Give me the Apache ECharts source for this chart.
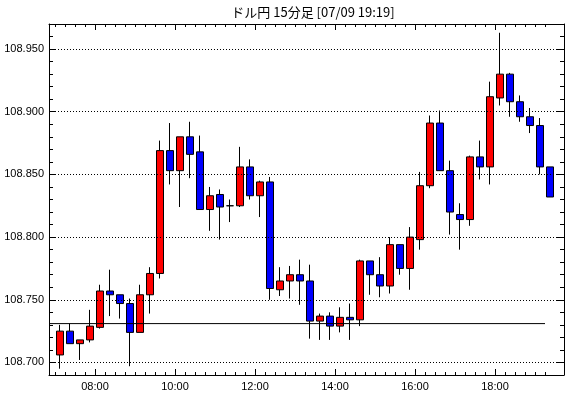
<!DOCTYPE html>
<html><head><meta charset="utf-8">
<script src="https://cdn.jsdelivr.net/npm/echarts@6/dist/echarts.min.js"></script>
<style>html,body{margin:0;padding:0;background:#fff}#c{width:570px;height:398px}</style>
</head><body><div id="c"></div>
<script>
const times = ["07:00","07:15","07:30","07:45","08:00","08:15","08:30","08:45","09:00","09:15",
"09:30","09:45","10:00","10:15","10:30","10:45","11:00","11:15","11:30","11:45",
"12:00","12:15","12:30","12:45","13:00","13:15","13:30","13:45","14:00","14:15",
"14:30","14:45","15:00","15:15","15:30","15:45","16:00","16:15","16:30","16:45",
"17:00","17:15","17:30","17:45","18:00","18:15","18:30","18:45","19:00","19:15"];
const opens = [108.706,108.725,108.715,108.718,108.728,108.757,108.754,108.747,108.724,108.754,
108.771,108.869,108.853,108.880,108.868,108.822,108.834,108.825,108.825,108.856,
108.833,108.844,108.758,108.765,108.770,108.765,108.733,108.737,108.729,108.736,
108.734,108.781,108.770,108.761,108.794,108.775,108.798,108.841,108.891,108.853,
108.818,108.814,108.864,108.856,108.911,108.930,108.908,108.896,108.889,108.856];
const closes = [108.725,108.715,108.718,108.729,108.757,108.754,108.747,108.724,108.754,108.771,
108.869,108.853,108.880,108.866,108.822,108.833,108.824,108.825,108.856,108.833,
108.844,108.759,108.765,108.770,108.765,108.733,108.737,108.729,108.736,108.734,
108.781,108.770,108.761,108.794,108.775,108.800,108.841,108.891,108.853,108.820,
108.814,108.864,108.856,108.912,108.930,108.908,108.896,108.889,108.856,108.832];
const lows = [108.695,108.715,108.702,108.716,108.727,108.737,108.735,108.697,108.724,108.739,
108.767,108.842,108.824,108.847,108.822,108.805,108.798,108.812,108.824,108.830,
108.816,108.750,108.753,108.751,108.746,108.719,108.718,108.718,108.724,108.718,
108.729,108.754,108.752,108.755,108.770,108.758,108.790,108.839,108.853,108.802,
108.790,108.809,108.846,108.842,108.905,108.896,108.892,108.883,108.850,108.832];
const highs = [108.730,108.731,108.718,108.742,108.762,108.774,108.754,108.751,108.762,108.776,
108.877,108.891,108.880,108.892,108.881,108.840,108.838,108.830,108.872,108.862,
108.845,108.848,108.776,108.777,108.782,108.778,108.739,108.740,108.744,108.747,
108.782,108.781,108.784,108.800,108.794,108.808,108.852,108.897,108.901,108.861,
108.827,108.865,108.877,108.924,108.963,108.931,108.913,108.903,108.895,108.856];
const refLevel = 108.731;
const refLineFrom = "06:51";
const refLineTo = "19:15";
const yTickLabels = [108.700,108.750,108.800,108.850,108.900,108.950];
const yMinorTicks = [108.69,108.70,108.71,108.72,108.73,108.74,108.75,108.76,108.77,108.78,108.79,108.80,108.81,108.82,108.83,108.84,108.85,108.86,108.87,108.88,108.89,108.90,108.91,108.92,108.93,108.94,108.95,108.96,108.97];
const xTickLabels = ["08:00","10:00","12:00","14:00","16:00","18:00"];
const titleText = "ドル円 15分足 [07/09 19:19]";

const toMin = s => { const [h,m] = s.split(":").map(Number); return h*60+m; };
const fmt = v => { const h = Math.floor(v/60), m = Math.round(v%60); return String(h).padStart(2,"0")+":"+String(m).padStart(2,"0"); };
const slotStarts = times.map(toMin);
const candleData = times.map((t,i)=>[toMin(t)+7.5, opens[i], closes[i], lows[i], highs[i]]);
const xMin = 411, xMax = 1183.5, yMin = 108.69, yMax = 108.97;
const majorX = xTickLabels.map(toMin);
const font = "'Liberation Sans', Arial, sans-serif";

const xBase = (pos, show, ticks, len, labels) => ({
  type:'value', position:pos, min:xMin, max:xMax, gridIndex:0,
  axisLine:{show:show, lineStyle:{color:'#000', width:1}},
  axisTick:{show:true, inside:true, length:len, customValues:ticks, lineStyle:{color:'#000'}},
  axisLabel:{show:!!labels, customValues:labels?majorX:undefined, formatter:fmt, color:'#000', fontSize:11, fontFamily:font, margin:6},
  splitLine:{show:false}
});
const yBase = (pos, show, ticks, len, labels) => ({
  type:'value', position:pos, min:yMin, max:yMax,
  axisLine:{show:show, onZero:false, lineStyle:{color:'#000', width:1}},
  axisTick:{show:true, inside:true, length:len, customValues:ticks, lineStyle:{color:'#000'}},
  axisLabel:{show:!!labels, customValues:labels?yTickLabels:undefined, formatter:v=>v.toFixed(3), color:'#000', fontSize:11, fontFamily:font, margin:5},
  splitLine:{show:false}
});

const chart = echarts.init(document.getElementById('c'), null, {renderer:'canvas'});
chart.setOption({
  animation:false,
  backgroundColor:'#fff',
  title:{text:titleText, left:308, top:1, textAlign:'center', textStyle:{fontSize:13, fontWeight:'normal', color:'#000', fontFamily:"'Noto Sans CJK JP', sans-serif"}},
  grid:{left:49, right:6, top:24, bottom:23},
  xAxis:[
    xBase('bottom', true, slotStarts, 3, true),
    xBase('bottom', false, majorX, 6, false),
    xBase('top', true, slotStarts, 3, false),
    xBase('top', false, majorX, 6, false)
  ],
  yAxis:[
    yBase('left', true, yMinorTicks, 4, true),
    yBase('left', false, yTickLabels, 7, false),
    yBase('right', true, yMinorTicks, 4, false),
    yBase('right', false, yTickLabels, 7, false)
  ],
  series:[
    {
      type:'line', xAxisIndex:0, yAxisIndex:0, silent:true, symbol:'none',
      data:[[toMin(refLineFrom), refLevel],[toMin(refLineTo), refLevel]],
      lineStyle:{color:'#000', width:1},
      markLine:{silent:true, symbol:'none', label:{show:false},
        lineStyle:{color:'#000', width:1, type:[1,2]},
        data:yTickLabels.map(v=>({yAxis:v}))}
    },
    {
      type:'candlestick', xAxisIndex:0, yAxisIndex:0, barWidth:7,
      encode:{x:0, y:[1,2,3,4]},
      data:candleData,
      itemStyle:{color:'#ff0000', color0:'#0000ff', borderColor:'#000', borderColor0:'#000', borderColorDoji:'#000', borderWidth:1}
    }
  ]
});
</script></body></html>
